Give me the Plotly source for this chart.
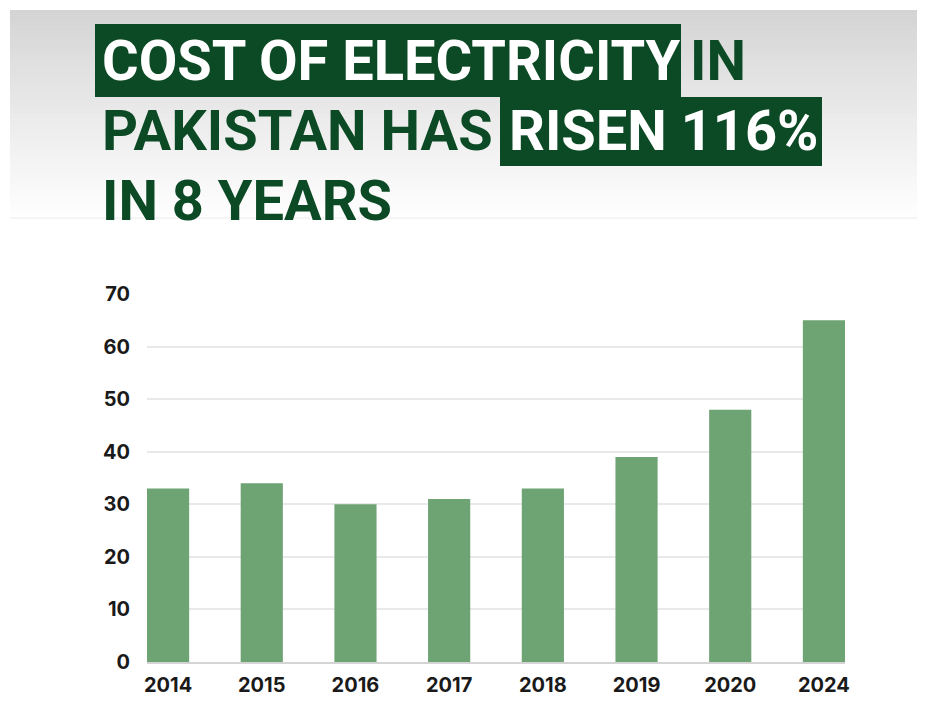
import plotly.graph_objects as go

years = ["2014", "2015", "2016", "2017", "2018", "2019", "2020", "2024"]
cost = [33, 34, 30, 31, 33, 39, 48, 65]
y_ticks = [0, 10, 20, 30, 40, 50, 60, 70]

W, H = 927, 708
L, R, T, B = 147, 845, 294, 662

def px(x):
    return (x - L) / (R - L)

def py(y):
    return (B - y) / (B - T)

BAR = "#6ea374"
DARK = "#0c4a25"
TFONT = "Roboto, Liberation Sans, sans-serif"
AFONT = "Inter, Lato, sans-serif"

fig = go.Figure()
fig.add_trace(go.Bar(x=years, y=cost, marker=dict(color=BAR, line=dict(width=0)), width=0.45))

shapes = []
# gray gradient header background
n = 40
top, bot = 10, 218
for i in range(n):
    y0 = top + (bot - top) * i / n
    y1 = top + (bot - top) * (i + 1) / n + 0.5
    t = i / (n - 1)
    g = int(212 + (254 - 212) * t ** 0.9)
    shapes.append(dict(type="rect", xref="paper", yref="paper", layer="below",
                       x0=px(10), x1=px(917), y0=py(y1), y1=py(y0),
                       fillcolor=f"rgb({g},{g},{g})", line=dict(width=0)))
shapes.append(dict(type="line", xref="paper", yref="paper", layer="below",
                   x0=px(10), x1=px(917), y0=py(218), y1=py(218),
                   line=dict(color="#f2f2f2", width=1.5)))
# highlight boxes
shapes.append(dict(type="rect", xref="paper", yref="paper", x0=px(95), x1=px(681),
                   y0=py(97), y1=py(24), fillcolor=DARK, line=dict(width=0)))
shapes.append(dict(type="rect", xref="paper", yref="paper", x0=px(500), x1=px(822),
                   y0=py(166), y1=py(97), fillcolor=DARK, line=dict(width=0)))

def title(txt, x, y, color):
    return dict(text=txt, x=px(x), y=py(y), xref="paper", yref="paper",
                xanchor="left", yanchor="middle", showarrow=False,
                font=dict(family=TFONT, size=56, color=color, weight="bold"))

annotations = [
    title("COST OF ELECTRICITY", 100, 61, "white"),
    title("IN", 688, 61, DARK),
    title("PAKISTAN HAS", 100, 131, DARK),
    title("RISEN 116%", 507, 131, "white"),
    title("IN 8 YEARS", 100, 201, DARK),
]

fig.update_layout(
    width=W, height=H,
    margin=dict(l=L, r=W - R, t=T, b=H - B, pad=0),
    paper_bgcolor="white", plot_bgcolor="white",
    showlegend=False, bargap=0.55,
    shapes=shapes, annotations=annotations,
    xaxis=dict(type="category", range=[-0.225, 7.225], showgrid=False,
               showline=True, linecolor="#d4d4d4", linewidth=1.5,
               tickfont=dict(family=AFONT, size=20, color="#1a1a1a", weight="bold"),
               ticks="", ticklabelstandoff=4),
    yaxis=dict(range=[0, 70], tickvals=y_ticks, showgrid=True, gridcolor="#e9e9e9", gridwidth=1.5,
               zeroline=False, showline=False,
               tickfont=dict(family=AFONT, size=20, color="#1a1a1a", weight="bold"),
               ticks="", ticklabelstandoff=16),
)

fig.write_html("out.html")
